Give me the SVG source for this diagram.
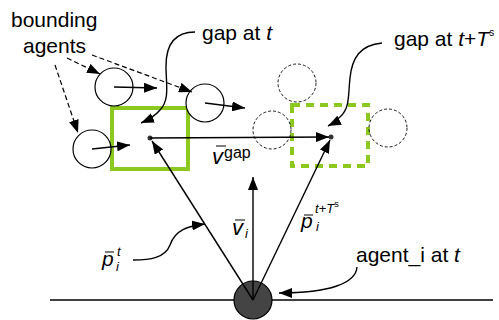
<svg xmlns="http://www.w3.org/2000/svg" width="499" height="320" viewBox="0 0 499 320">
<defs>
<marker id="ah" markerUnits="userSpaceOnUse" markerWidth="14" markerHeight="10" refX="13" refY="5" orient="auto">
<path d="M0,0 L13,5 L0,10 z" fill="#000"/>
</marker>
<style>
.t{font-family:"Liberation Sans",Arial,sans-serif;font-size:21px;fill:#000}
.m{font-family:"Liberation Sans",Arial,sans-serif;font-style:italic;fill:#000}
.n{font-style:normal}
.ln{stroke:#000;stroke-width:1.4;fill:none}
.ar{stroke:#000;stroke-width:1.4;fill:none;marker-end:url(#ah)}
.da{stroke:#000;stroke-width:1.2;fill:none;stroke-dasharray:5,3;marker-end:url(#ah)}
.ag{fill:#fff;stroke:#000;stroke-width:1.2}
.gh{fill:none;stroke:#000;stroke-width:0.9;stroke-dasharray:3,2}
.ov{stroke:#000;stroke-width:1}
</style>
</defs>
<rect width="499" height="320" fill="#fff"/>

<line class="ln" x1="50" y1="300" x2="493" y2="300"/>

<g id="gap_t_box"><rect x="112" y="108" width="76" height="61" fill="none" stroke="#8cc81e" stroke-width="4"/></g>
<g id="gap_ts_box"><rect x="292" y="105" width="76" height="61" fill="none" stroke="#8cc81e" stroke-width="4" stroke-dasharray="8,6"/></g>

<g id="ghost1"><circle class="gh" cx="297" cy="83" r="19"/></g>
<g id="ghost2"><circle class="gh" cx="272" cy="130" r="19"/></g>
<g id="ghost3"><circle class="gh" cx="388" cy="128" r="19"/></g>

<g id="agent1"><circle class="ag" cx="114" cy="87" r="19"/></g>
<g id="agent2"><circle class="ag" cx="205" cy="103" r="19"/></g>
<g id="agent3"><circle class="ag" cx="92" cy="149" r="19"/></g>

<g id="agent_i"><circle cx="253" cy="300" r="19" fill="#444" stroke="#000" stroke-width="1.2"/></g>

<g id="gap_t_pt"><circle cx="150" cy="138" r="2.5" fill="#333"/></g>
<g id="gap_ts_pt"><circle cx="331" cy="137" r="2.5" fill="#333"/></g>

<g id="connectors">
<path class="ar" d="M114,87 L157,88"/>
<path class="ar" d="M205,103 L245,108"/>
<path class="ar" d="M92,149 L130,145"/>
<path class="da" d="M67,58 L100,74"/>
<path class="da" d="M92,55 L192,92"/>
<path class="da" d="M55,65 L78,133"/>
<path class="ar" d="M150,138 L329,137"/>
<path class="ar" d="M253,300 L253,177"/>
<path class="ar" d="M253,300 L152,141"/>
<path class="ar" d="M253,300 L330,140"/>
<path class="ar" d="M195,32 C172,32 166,48 166,66 C166,84 170,100 160,110 C155,116 148,120 141,123"/>
<path class="ar" d="M382,43 C360,45 352,58 350,78 C348,96 350,108 340,117 C336,121 332,124 328,126"/>
<path class="ar" d="M133,260 C150,260 165,258 170,245 C175,230 188,226 205,224"/>
<path class="ar" d="M357,267 C356,283 330,293 279,293"/>
</g>

<g id="labels">
<text class="t" x="11" y="27">bounding</text>
<text class="t" x="23" y="53">agents</text>
<text class="t" x="202" y="40">gap at <tspan font-style="italic">t</tspan></text>
<text class="t" x="394" y="46">gap at <tspan font-style="italic">t</tspan>+<tspan font-style="italic">T</tspan><tspan font-size="10" dy="-10">s</tspan></text>
<text class="t" x="356" y="262">agent_i at <tspan font-style="italic">t</tspan></text>

<text class="m" x="212" y="164" font-size="22">v</text>
<line class="ov" x1="216" y1="146" x2="226" y2="146"/>
<text class="m n" x="224" y="158" font-size="16">gap</text>

<text class="m" x="232" y="235" font-size="22">v</text>
<line class="ov" x1="235" y1="220" x2="245" y2="220"/>
<text class="m" x="245" y="238" font-size="13">i</text>

<text class="m" x="102" y="266" font-size="21">p</text>
<line class="ov" x1="105" y1="252" x2="114" y2="252"/>
<text class="m" x="117" y="256" font-size="13">t</text>
<text class="m" x="116" y="271" font-size="13">i</text>

<text class="m" x="301" y="228" font-size="21">p</text>
<line class="ov" x1="304" y1="215" x2="313" y2="215"/>
<text class="m" x="315" y="213" font-size="13">t<tspan class="n">+</tspan>T<tspan class="n" font-size="9" dy="-6">s</tspan></text>
<text class="m" x="316" y="231" font-size="13">i</text>
</g>
</svg>
